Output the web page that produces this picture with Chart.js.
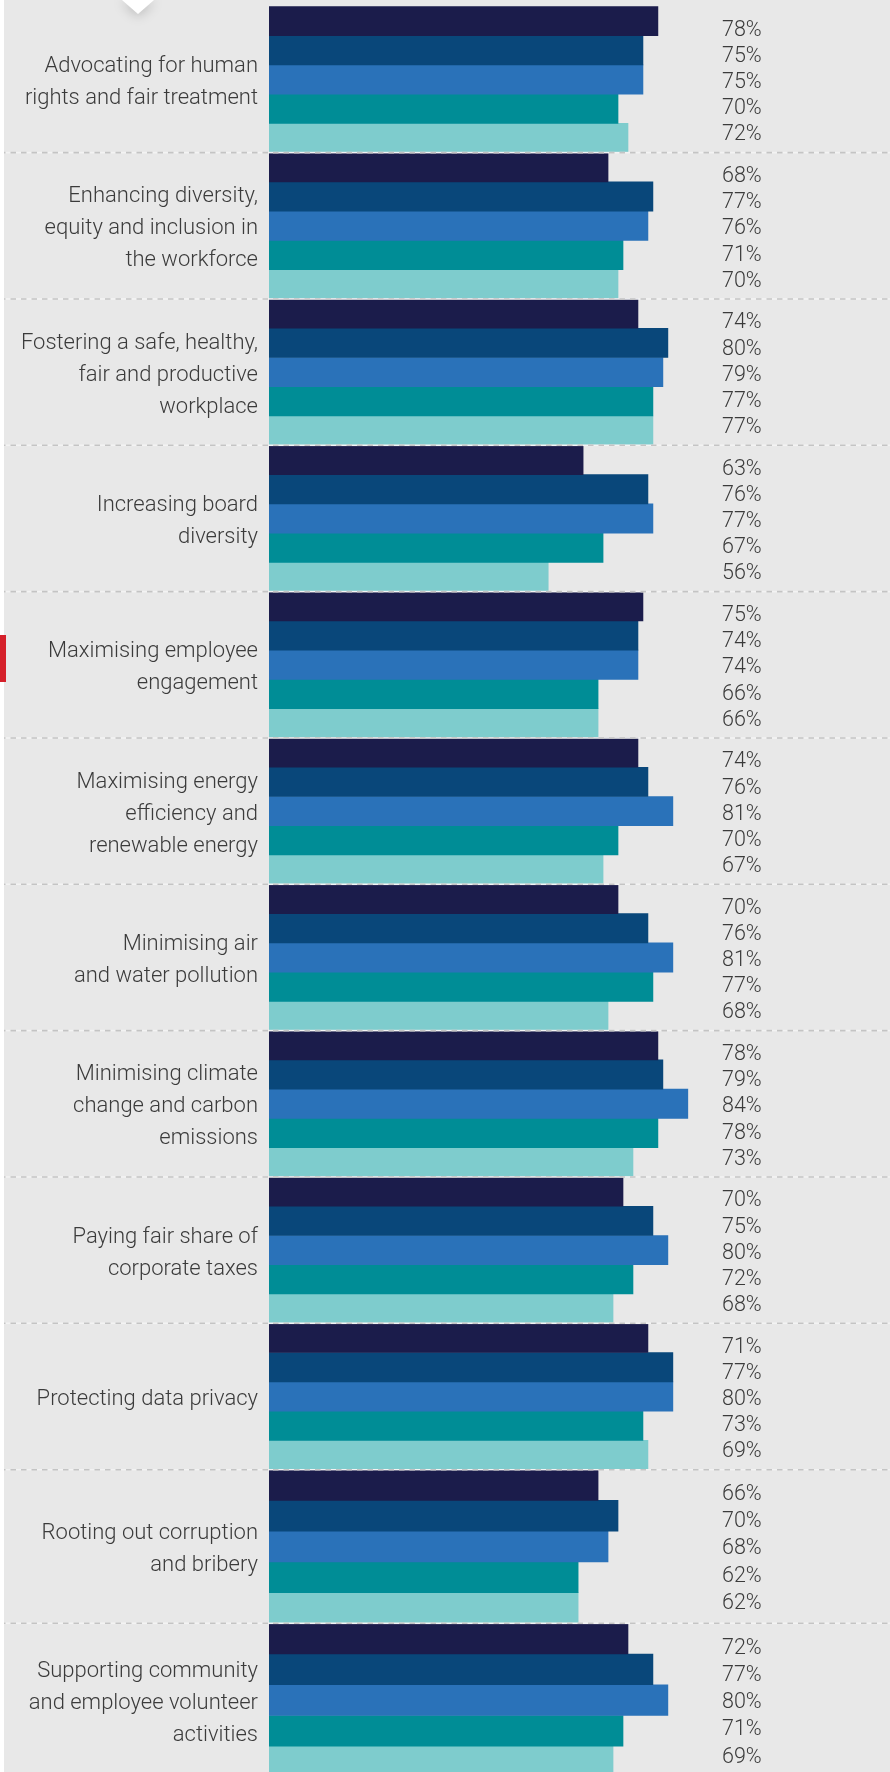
<!DOCTYPE html>
<html>
<head>
<meta charset="utf-8">
<script src="https://cdn.jsdelivr.net/npm/chart.js@4.4.1/dist/chart.umd.min.js"></script>
<style>
  html, body { margin: 0; padding: 0; }
  body { width: 890px; height: 1772px; overflow: hidden; background: #e8e8e8; position: relative; }
  .box { position: absolute; left: 0; width: 890px; }
  #boxA { top: 0; height: 1470px; }
  #boxB { top: 1469px; height: 310px; }
  #strip { position: absolute; left: 0; top: 0; width: 4px; height: 1772px; background: #fff; z-index: 2; }
  #marker { position: absolute; left: 0; top: 635px; width: 6px; height: 47px; background: #d5202a; z-index: 3; }
  #pointer {
    position: absolute; left: 122px; top: 0; width: 0; height: 0;
    border-left: 16px solid transparent; border-right: 16px solid transparent;
    border-top: 14px solid #fff;
    filter: drop-shadow(0 2px 6px rgba(0,0,0,0.22)); z-index: 2;
  }
</style>
</head>
<body>
<div class="box" id="boxA"><canvas id="chartA"></canvas></div>
<div class="box" id="boxB"><canvas id="chartB"></canvas></div>
<div id="strip"></div>
<div id="marker"></div>
<div id="pointer"></div>

<script>
const categories = [
  ['Advocating for human', 'rights and fair treatment'],
  ['Enhancing diversity,', 'equity and inclusion in', 'the workforce'],
  ['Fostering a safe, healthy,', 'fair and productive', 'workplace'],
  ['Increasing board', 'diversity'],
  ['Maximising employee', 'engagement'],
  ['Maximising energy', 'efficiency and', 'renewable energy'],
  ['Minimising air', 'and water pollution'],
  ['Minimising climate', 'change and carbon', 'emissions'],
  ['Paying fair share of', 'corporate taxes'],
  ['Protecting data privacy'],
  ['Rooting out corruption', 'and bribery'],
  ['Supporting community', 'and employee volunteer', 'activities']
];

// bar lengths as drawn
const series1 = [78, 68, 74, 63, 75, 74, 70, 78, 71, 76, 66, 72];
const series2 = [75, 77, 80, 76, 74, 76, 76, 79, 77, 81, 70, 77];
const series3 = [75, 76, 79, 77, 74, 81, 81, 84, 80, 81, 68, 80];
const series4 = [70, 71, 77, 67, 66, 70, 77, 78, 73, 75, 62, 71];
const series5 = [72, 70, 77, 56, 66, 67, 68, 73, 69, 76, 62, 69];

// percentages printed beside the bars
const printed1 = [78, 68, 74, 63, 75, 74, 70, 78, 70, 71, 66, 72];
const printed2 = [75, 77, 80, 76, 74, 76, 76, 79, 75, 77, 70, 77];
const printed3 = [75, 76, 79, 77, 74, 81, 81, 84, 80, 80, 68, 80];
const printed4 = [70, 71, 77, 67, 66, 70, 77, 78, 72, 73, 62, 71];
const printed5 = [72, 70, 77, 56, 66, 67, 68, 73, 68, 69, 62, 69];

const seriesNames = ['Series 1', 'Series 2', 'Series 3', 'Series 4', 'Series 5'];
const colours = ['#1b1c4b', '#09477a', '#2a72b9', '#008d96', '#7ecccd'];

const allSeries = [series1, series2, series3, series4, series5];
const allPrinted = [printed1, printed2, printed3, printed4, printed5];

const textColour = '#3b3b3b';
const fontFamily = 'Roboto, "Liberation Sans", Arial, sans-serif';

function buildChart(canvasId, from, to, padTop, padBottom, labelStep, labelShift) {
  const extras = {
    id: 'extras',
    afterDatasetsDraw(chart) {
      const { ctx, scales: { y } } = chart;
      const band = y.getPixelForValue(1) - y.getPixelForValue(0);
      ctx.save();
      // dashed separators between groups
      for (let i = 0; i < to - from; i++) {
        if (from + i === 0) continue;
        const yy = y.getPixelForValue(i) - band / 2;
        ctx.fillStyle = '#f3f3f3';
        ctx.fillRect(0, yy - 0.8, chart.width, 1.6);
        ctx.beginPath();
        ctx.setLineDash([5.5, 5]);
        ctx.strokeStyle = '#c4c4c4';
        ctx.lineWidth = 1.6;
        ctx.moveTo(0, yy);
        ctx.lineTo(chart.width, yy);
        ctx.stroke();
      }
      ctx.setLineDash([]);
      // value labels
      ctx.fillStyle = textColour;
      ctx.font = '300 21.5px ' + fontFamily;
      ctx.textAlign = 'left';
      ctx.textBaseline = 'alphabetic';
      const x = chart.chartArea.left + 453;
      for (let i = 0; i < to - from; i++) {
        const c = y.getPixelForValue(i);
        allPrinted.forEach((arr, j) => {
          ctx.fillText(arr[from + i] + '%', x, c + (j - 2) * band * labelStep + labelShift);
        });
      }
      ctx.restore();
    }
  };

  return new Chart(document.getElementById(canvasId), {
    type: 'bar',
    data: {
      labels: categories.slice(from, to),
      datasets: allSeries.map((s, j) => ({
        label: seriesNames[j],
        data: s.slice(from, to),
        backgroundColor: colours[j],
        borderWidth: 0,
        barPercentage: 1,
        categoryPercentage: 1
      }))
    },
    options: {
      indexAxis: 'y',
      responsive: true,
      maintainAspectRatio: false,
      animation: false,
      layout: { autoPadding: false, padding: { left: 0, right: 122.4, top: padTop, bottom: padBottom } },
      plugins: { legend: { display: false }, tooltip: { enabled: false } },
      scales: {
        x: { display: false, min: 0, max: 100 },
        y: {
          grid: { display: false, drawTicks: false },
          border: { display: false },
          afterFit: (scale) => {
            scale.width = 269;
            scale.paddingTop = 0;
            scale.paddingBottom = 0;
          },
          ticks: {
            padding: 11,
            labelOffset: 3,
            color: textColour,
            font: { family: fontFamily, size: 22, weight: 300, lineHeight: '32px' }
          }
        }
      }
    },
    plugins: [extras]
  });
}

buildChart('chartA', 0, 10, 6.3, 0.4, 0.179, 8.6);
buildChart('chartB', 10, 12, 0.6, 2.0, 0.177, 8.0);
</script>
</body>
</html>
